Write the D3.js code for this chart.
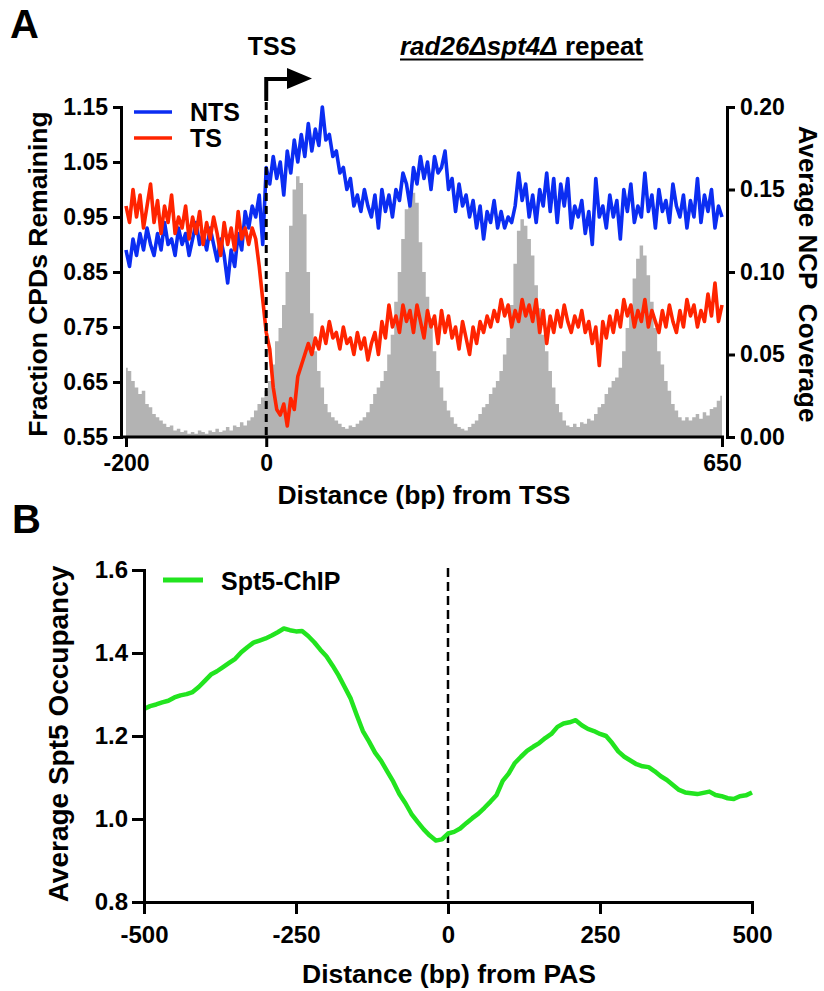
<!DOCTYPE html>
<html>
<head>
<meta charset="utf-8">
<script src="https://cdn.jsdelivr.net/npm/d3@7"></script>
<style>
body { margin: 0; background: #fff; }
</style>
</head>
<body>
<svg id="chart" width="824" height="991"></svg>
<script>

// panel A data (every 5 bp from -200 to 650)
var positionsA = d3.range(-200, 651, 5)

var ntsValues = [
  0.89,0.86,0.91,0.88,0.92,0.89,0.93,0.90,0.88,0.92,
  0.89,0.94,0.90,0.91,0.88,0.93,0.90,0.92,0.88,0.91,
  0.94,0.90,0.92,0.89,0.93,0.90,0.87,0.91,0.88,0.83,
  0.89,0.86,0.92,0.89,0.96,0.93,0.97,0.95,0.99,0.90,
  1.04,1.01,1.06,1.02,1.05,0.99,1.07,1.03,1.09,1.05,
  1.10,1.06,1.12,1.07,1.11,1.08,1.15,1.09,1.10,1.06,
  1.07,1.03,1.04,1.00,1.02,0.97,0.99,0.96,1.00,0.97,
  0.95,0.99,0.93,1.00,0.96,0.99,0.95,1.00,0.98,1.03,
  1.01,0.97,1.04,1.01,1.06,1.02,1.05,1.00,1.06,1.03,
  1.04,1.07,1.00,1.02,0.96,1.01,0.97,0.99,0.95,0.98,
  0.93,0.97,0.91,0.96,0.94,0.98,0.93,0.96,0.93,0.95,
  0.94,0.97,1.03,0.98,1.01,0.95,0.99,0.94,1.00,0.97,
  1.03,0.96,1.02,0.94,1.01,0.97,1.02,0.93,0.97,0.95,
  0.98,0.92,0.96,0.90,1.02,0.95,0.97,0.93,0.99,0.95,
  0.98,0.91,1.00,0.96,1.01,0.94,0.97,0.95,1.03,0.96,
  0.99,0.93,1.00,0.96,0.98,0.94,1.01,0.97,0.95,0.99,
  0.93,0.98,0.95,1.02,0.94,0.99,0.96,1.00,0.93,0.97,
  0.95
]

var tsValues = [
  0.97,0.94,1.00,0.95,0.99,0.93,0.97,1.01,0.94,0.98,
  0.92,0.97,0.94,0.99,0.92,0.95,0.93,0.97,0.91,0.95,
  0.92,0.96,0.90,0.94,0.91,0.95,0.92,0.88,0.94,0.90,
  0.93,0.89,0.96,0.91,0.93,0.90,0.93,0.91,0.86,0.80,
  0.74,0.71,0.64,0.60,0.59,0.61,0.57,0.62,0.60,0.66,
  0.68,0.70,0.72,0.70,0.73,0.71,0.75,0.72,0.76,0.73,
  0.74,0.71,0.75,0.72,0.73,0.70,0.74,0.71,0.73,0.69,
  0.72,0.74,0.70,0.76,0.73,0.79,0.75,0.77,0.74,0.79,
  0.76,0.78,0.74,0.79,0.76,0.73,0.78,0.75,0.77,0.72,
  0.78,0.74,0.77,0.73,0.75,0.71,0.76,0.73,0.70,0.75,
  0.72,0.76,0.74,0.77,0.75,0.78,0.76,0.80,0.77,0.79,
  0.75,0.78,0.76,0.80,0.77,0.79,0.76,0.80,0.74,0.78,
  0.72,0.77,0.74,0.78,0.75,0.79,0.76,0.74,0.77,0.75,
  0.78,0.74,0.76,0.72,0.75,0.68,0.76,0.73,0.77,0.74,
  0.78,0.75,0.80,0.77,0.79,0.75,0.78,0.76,0.80,0.75,
  0.78,0.76,0.74,0.78,0.75,0.79,0.76,0.74,0.78,0.75,
  0.80,0.77,0.79,0.75,0.78,0.76,0.81,0.77,0.83,0.76,
  0.79
]

var ncpValues = [
  0.042,0.040,0.034,0.030,0.026,0.028,0.020,0.018,0.014,0.012,
  0.010,0.008,0.006,0.007,0.004,0.005,0.003,0.004,0.002,0.003,
  0.002,0.004,0.003,0.002,0.004,0.003,0.005,0.003,0.004,0.006,
  0.004,0.007,0.006,0.009,0.007,0.010,0.012,0.016,0.020,0.024,
  0.028,0.034,0.044,0.058,0.066,0.080,0.100,0.128,0.150,0.158,
  0.154,0.135,0.100,0.075,0.052,0.040,0.030,0.020,0.015,0.012,
  0.010,0.008,0.006,0.005,0.007,0.006,0.008,0.010,0.012,0.015,
  0.020,0.026,0.030,0.034,0.040,0.050,0.062,0.082,0.100,0.120,
  0.138,0.146,0.148,0.142,0.118,0.100,0.085,0.072,0.052,0.040,
  0.030,0.022,0.016,0.012,0.008,0.006,0.005,0.004,0.006,0.008,
  0.010,0.014,0.018,0.020,0.026,0.030,0.034,0.040,0.050,0.060,
  0.080,0.105,0.125,0.132,0.128,0.120,0.110,0.092,0.078,0.062,
  0.052,0.040,0.030,0.020,0.015,0.010,0.007,0.006,0.008,0.006,
  0.009,0.008,0.011,0.010,0.014,0.018,0.020,0.026,0.030,0.034,
  0.036,0.042,0.052,0.066,0.080,0.096,0.108,0.116,0.110,0.098,
  0.082,0.066,0.052,0.044,0.034,0.028,0.020,0.016,0.012,0.010,
  0.012,0.010,0.012,0.014,0.011,0.015,0.013,0.017,0.018,0.022,
  0.025
]

var leftTicksA = [0.55, 0.65, 0.75, 0.85, 0.95, 1.05, 1.15]
var rightTicksA = [0, 0.05, 0.10, 0.15, 0.20]
var xTicksA = [-200, 0, 650]

// panel B data (every 10 bp from -500 to 500)
var positionsB = d3.range(-500, 501, 10)

var spt5Values = [
  1.265,1.272,1.276,1.281,1.285,1.293,1.298,1.301,1.306,1.318,
  1.333,1.348,1.356,1.366,1.376,1.386,1.402,1.414,1.425,1.430,
  1.435,1.442,1.450,1.459,1.455,1.452,1.453,1.441,1.426,1.408,
  1.392,1.370,1.346,1.318,1.290,1.250,1.212,1.187,1.160,1.140,
  1.115,1.090,1.060,1.038,1.012,0.993,0.975,0.960,0.948,0.951,
  0.965,0.969,0.977,0.990,1.002,1.013,1.027,1.042,1.058,1.092,
  1.110,1.135,1.150,1.164,1.174,1.183,1.195,1.205,1.222,1.230,
  1.233,1.238,1.226,1.217,1.212,1.205,1.200,1.183,1.163,1.150,
  1.141,1.132,1.127,1.125,1.115,1.103,1.094,1.082,1.070,1.064,
  1.062,1.060,1.063,1.066,1.058,1.055,1.050,1.048,1.055,1.057,
  1.064
]

var yTicksB = [0.8, 1.0, 1.2, 1.4, 1.6]
var xTicksB = [-500, -250, 0, 250, 500]

var fontFam = "'Liberation Sans', Arial, Helvetica, sans-serif"
var svg = d3.select("#chart")

var styleAxis = function(g, size)
{
    g.attr("font-family", fontFam)
     .attr("font-size", size)
     .attr("font-weight", "bold")
    g.selectAll("line").attr("stroke", "#000").attr("stroke-width", 3)
    g.selectAll("path.domain").attr("stroke", "#000").attr("stroke-width", 3).attr("stroke-linecap", "square")
    g.selectAll("text").attr("fill", "#000")
}

var addText = function(str, x, y, size, anchor, rotate)
{
    var t = svg.append("text")
        .text(str)
        .attr("font-family", fontFam)
        .attr("font-weight", "bold")
        .attr("font-size", size)
        .attr("fill", "#000")
        .attr("text-anchor", anchor)
    if (rotate)
        t.attr("transform", "translate(" + x + "," + y + ") rotate(" + rotate + ")")
    else
        t.attr("x", x).attr("y", y)
    return t
}

// ---------------- panel A ----------------

var xA = d3.scaleLinear().domain([-200, 650]).range([126, 722])
var yA = d3.scaleLinear().domain([0.55, 1.15]).range([437, 107])
var yNcp = d3.scaleLinear().domain([0, 0.2]).range([437, 107])

svg.append("path")
    .datum(ncpValues)
    .attr("d", d3.area()
        .x(function(d, i) { return xA(positionsA[i]) })
        .y0(yNcp(0))
        .y1(function(d) { return yNcp(d) })
        .curve(d3.curveStep))
    .attr("fill", "#b3b3b3")

var lineA = d3.line()
    .x(function(d, i) { return xA(positionsA[i]) })
    .y(function(d) { return yA(d) })

svg.append("path")
    .datum(ntsValues)
    .attr("d", lineA)
    .attr("fill", "none")
    .attr("stroke", "#0b2df2")
    .attr("stroke-width", 3.6)
    .attr("stroke-linejoin", "round")

svg.append("path")
    .datum(tsValues)
    .attr("d", lineA)
    .attr("fill", "none")
    .attr("stroke", "#ff2400")
    .attr("stroke-width", 3.6)
    .attr("stroke-linejoin", "round")

// TSS dashed line and arrow
var tssX = xA(0)
svg.append("line")
    .attr("x1", tssX).attr("x2", tssX)
    .attr("y1", 102).attr("y2", 437)
    .attr("stroke", "#000")
    .attr("stroke-width", 3)
    .attr("stroke-dasharray", "8,5")
svg.append("path")
    .attr("d", "M" + tssX + ",101V79H289")
    .attr("fill", "none")
    .attr("stroke", "#000")
    .attr("stroke-width", 4)
svg.append("path")
    .attr("d", "M287,68L312,78.5L287,89Z")
    .attr("fill", "#000")

var axLA = svg.append("g")
    .attr("transform", "translate(121,0)")
    .call(d3.axisLeft(yA).tickValues(leftTicksA).tickFormat(d3.format(".2f"))
        .tickSize(8).tickSizeOuter(0).tickPadding(5))
styleAxis(axLA, 23)

var axRA = svg.append("g")
    .attr("transform", "translate(727,0)")
    .call(d3.axisRight(yNcp).tickValues(rightTicksA).tickFormat(d3.format(".2f"))
        .tickSize(8).tickSizeOuter(0).tickPadding(5))
styleAxis(axRA, 23)

var axBA = svg.append("g")
    .attr("transform", "translate(0,437)")
    .call(d3.axisBottom(xA).tickValues(xTicksA).tickFormat(function(d) { return String(d) })
        .tickSize(10).tickPadding(8))
axBA.select(".domain").remove()
axBA.append("line").attr("x1", 121).attr("x2", 724).attr("y1", 0).attr("y2", 0)
styleAxis(axBA, 23)

// labels A
addText("A", 10, 38, 40, "start")
addText("TSS", 272, 55, 25, "middle")

var title = svg.append("text")
    .attr("x", 400).attr("y", 55)
    .attr("font-family", fontFam)
    .attr("font-weight", "bold")
    .attr("font-size", 26)
    .attr("fill", "#000")
title.append("tspan").attr("font-style", "italic").text("rad26\u0394spt4\u0394")
title.append("tspan").text(" repeat")
var tb = title.node().getBBox()
svg.append("line")
    .attr("x1", tb.x).attr("x2", tb.x + tb.width)
    .attr("y1", 59.5).attr("y2", 59.5)
    .attr("stroke", "#000").attr("stroke-width", 2.2)

svg.append("line").attr("x1", 134).attr("x2", 172).attr("y1", 112).attr("y2", 112)
    .attr("stroke", "#0b2df2").attr("stroke-width", 3.6)
svg.append("line").attr("x1", 134).attr("x2", 172).attr("y1", 138).attr("y2", 138)
    .attr("stroke", "#ff2400").attr("stroke-width", 3.6)
addText("NTS", 190, 121, 25, "start")
addText("TS", 190, 147, 25, "start")

addText("Fraction CPDs Remaining", 47, 274, 26.5, "middle", -90)
addText("Average NCP\u00a0 Coverage", 799, 274, 26, "middle", 90)
addText("Distance (bp) from TSS", 424, 504, 26.5, "middle")

// ---------------- panel B ----------------

var xB = d3.scaleLinear().domain([-500, 500]).range([144, 752])
var yB = d3.scaleLinear().domain([0.8, 1.6]).range([902, 570])

svg.append("line")
    .attr("x1", xB(0)).attr("x2", xB(0))
    .attr("y1", 568).attr("y2", 902)
    .attr("stroke", "#000")
    .attr("stroke-width", 2.5)
    .attr("stroke-dasharray", "9,5")

svg.append("path")
    .datum(spt5Values)
    .attr("d", d3.line()
        .x(function(d, i) { return xB(positionsB[i]) })
        .y(function(d) { return yB(d) }))
    .attr("fill", "none")
    .attr("stroke", "#22e41f")
    .attr("stroke-width", 4.5)
    .attr("stroke-linejoin", "round")

var axLB = svg.append("g")
    .attr("transform", "translate(144,0)")
    .call(d3.axisLeft(yB).tickValues(yTicksB).tickFormat(d3.format(".1f"))
        .tickSize(12).tickSizeOuter(0).tickPadding(4))
styleAxis(axLB, 24)

var axBB = svg.append("g")
    .attr("transform", "translate(0,902)")
    .call(d3.axisBottom(xB).tickValues(xTicksB).tickFormat(function(d) { return String(d) })
        .tickSize(12).tickSizeOuter(0).tickPadding(12))
styleAxis(axBB, 24)

addText("B", 12, 533, 40, "start")
svg.append("line").attr("x1", 163).attr("x2", 203).attr("y1", 580).attr("y2", 580)
    .attr("stroke", "#22e41f").attr("stroke-width", 5)
addText("Spt5-ChIP", 221, 590, 25, "start")
addText("Average Spt5 Occupancy", 68, 734, 28, "middle", -90)
addText("Distance (bp) from PAS", 449, 983, 26.5, "middle")

</script>
</body>
</html>
